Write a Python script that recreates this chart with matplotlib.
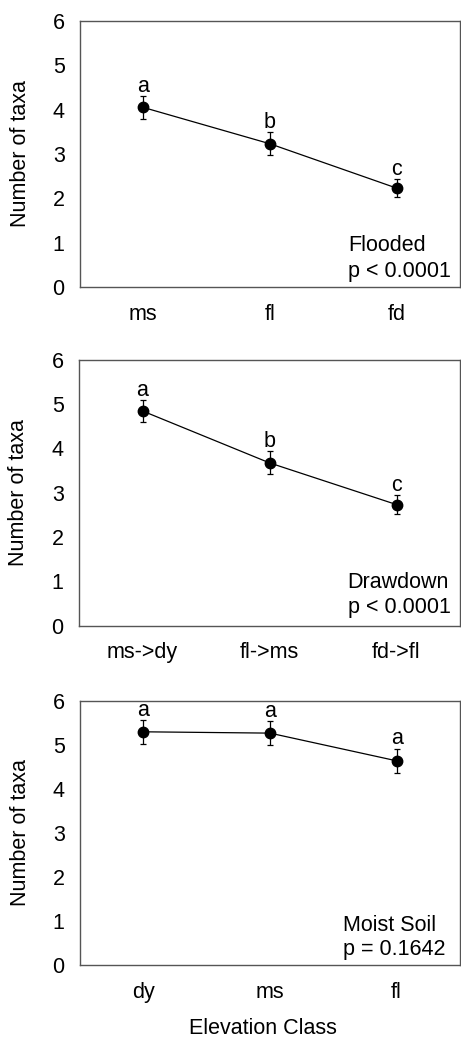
import matplotlib
matplotlib.use("Agg")
import matplotlib.pyplot as plt

plt.rcParams['font.family'] = ['Liberation Sans', 'DejaVu Sans']

# Data
cats_flooded = ["ms", "fl", "fd"]
mean_flooded = [4.05, 3.23, 2.23]
se_flooded = [0.26, 0.26, 0.20]
let_flooded = ["a", "b", "c"]

cats_drawdown = ["ms->dy", "fl->ms", "fd->fl"]
mean_drawdown = [4.84, 3.67, 2.73]
se_drawdown = [0.25, 0.26, 0.21]
let_drawdown = ["a", "b", "c"]

cats_moist = ["dy", "ms", "fl"]
mean_moist = [5.30, 5.27, 4.64]
se_moist = [0.27, 0.28, 0.28]
let_moist = ["a", "a", "a"]

panels = [
    (cats_flooded, mean_flooded, se_flooded, let_flooded, "Flooded", "p < 0.0001"),
    (cats_drawdown, mean_drawdown, se_drawdown, let_drawdown, "Drawdown", "p < 0.0001"),
    (cats_moist, mean_moist, se_moist, let_moist, "Moist Soil", "p = 0.1642"),
]

W, H = 461, 1039
fig = plt.figure(figsize=(W / 100, H / 100), dpi=100)

# axes boxes in pixels: (left, top, right, bottom)
boxes = [(80, 21, 460, 287), (79, 359.5, 460, 625.7), (80, 701, 460, 965)]
label_pos = [(0.705, 0.136, 0.039), (0.705, 0.140, 0.047), (0.692, 0.130, 0.038)]

fs = 15.5
for (cats, means, ses, lets, name, ptxt), (l, t, r, b), (tx, ty1, ty2) in zip(panels, boxes, label_pos):
    ax = fig.add_axes([l / W, 1 - b / H, (r - l) / W, (b - t) / H])
    xs = list(range(1, len(cats) + 1))
    ax.errorbar(xs, means, yerr=ses, color='black', lw=0.9, marker='o', ms=7.5,
                elinewidth=0.9, capsize=2.5, capthick=0.9)
    for x, m, s, lt in zip(xs, means, ses, lets):
        ax.annotate(lt, (x, m + s), xytext=(0, 3), textcoords='offset points',
                    ha='center', va='baseline', fontsize=fs)
    ax.set_xlim(0.5, 3.5)
    ax.set_ylim(0, 6)
    ax.set_yticks(range(0, 7))
    ax.set_xticks(xs)
    ax.set_xticklabels(cats)
    ax.tick_params(axis='both', length=0, labelsize=fs)
    ax.tick_params(axis='y', pad=11)
    ax.tick_params(axis='x', pad=12)
    for sp in ax.spines.values():
        sp.set_color('#555555')
        sp.set_linewidth(1.0)
    ax.set_ylabel("Number of taxa", fontsize=fs)
    ax.yaxis.set_label_coords(-0.13, 0.5)
    ax.text(tx, ty1, name, transform=ax.transAxes, ha='left', va='baseline', fontsize=fs)
    ax.text(tx, ty2, ptxt, transform=ax.transAxes, ha='left', va='baseline', fontsize=fs)

fig.text(0.571, 1 - 1028 / H, "Elevation Class", ha='center', va='center', fontsize=fs)

fig.savefig("out.png", dpi=100)
